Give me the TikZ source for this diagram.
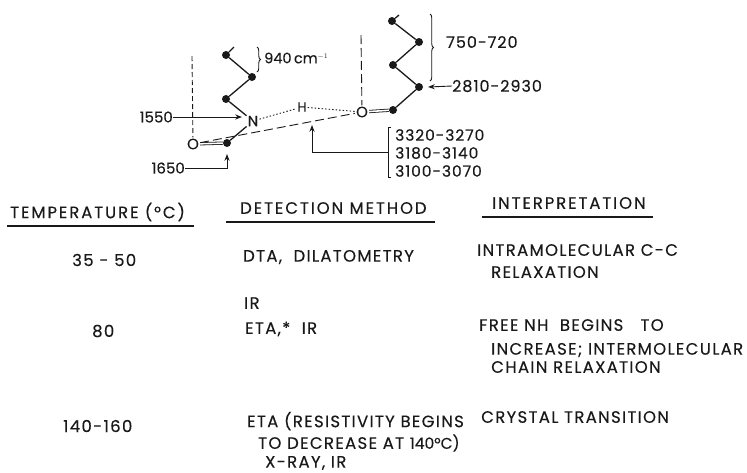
\documentclass[tikz,border=0pt]{standalone}
\usepackage{fontspec}
\setmainfont[FakeBold=0.25]{Poppins}
\newfontfamily\bodyfont[LetterSpace=8,FakeBold=0.25]{Poppins}
\newfontfamily\headfont[LetterSpace=11.5,FakeBold=0.25]{Poppins}
\newfontfamily\numfont[LetterSpace=6,FakeBold=0.25]{Poppins}
\newfontfamily\tightfont[FakeBold=0.25]{Poppins}
\usepackage{xcolor}
\usepackage{tikz}
\usetikzlibrary{arrows.meta, calc, decorations.pathreplacing}
\definecolor{ink}{RGB}{25,25,25}
\tikzset{
  lbl/.style    ={inner sep=0pt, anchor=west, text=ink, font=\bodyfont\fontsize{16.5}{18}\selectfont},
  hdr/.style    ={lbl, font=\headfont\fontsize{16.5}{18}\selectfont},
  num/.style    ={lbl, font=\numfont\fontsize{16}{18}\selectfont},
  tag/.style    ={lbl, font=\fontsize{15}{18}\selectfont},
  atom/.style   ={circle, fill=ink, inner sep=0pt, minimum size=8pt},
  het/.style    ={inner sep=1pt, text=ink, font=\fontsize{15}{15}\selectfont},
  bond/.style   ={draw=ink, line width=1.3pt},
  dbl/.style    ={draw=ink, line width=0.8pt, double, double distance=1.6pt},
  hb/.style     ={draw=ink, line width=0.9pt, dash pattern=on 1.5pt off 2pt},
  lng/.style    ={draw=ink, line width=0.9pt, dash pattern=on 9pt off 4pt},
  ar/.style     ={-{Stealth[length=2.4mm]}, draw=ink, line width=0.9pt},
  rule/.style   ={draw=ink, line width=1.1pt},
  brc/.style    ={draw=ink, line width=0.9pt, decorate, decoration={brace, amplitude=3.5pt}},
}
\begin{document}
\begin{tikzpicture}[x=1pt, y=-1pt]
\useasboundingbox (0,0) rectangle (747,472);
% left chain
\node[atom] (a1) at (226,55)  {};
\node[atom] (a2) at (252,77)  {};
\node[atom] (a3) at (226,99)  {};
\node[het]  (n)  at (253,121) {N};
\node[atom] (c1) at (227,143) {};
\node[het]  (o1) at (193,144) {O};
\coordinate (a0) at (234,47);
% right chain
\node[atom] (b1) at (392,21)  {};
\node[atom] (b2) at (419,42)  {};
\node[atom] (b3) at (393,65)  {};
\node[atom] (b4) at (419,87)  {};
\node[atom] (c2) at (393,110) {};
\node[het]  (o2) at (362,112) {O};
\node[het, font=\fontsize{13}{13}\selectfont] (h) at (302,107) {H};
\coordinate (b0) at (399,15);
\draw[bond] (a0)--(a1)--(a2)--(a3)--(n)--(c1);
\draw[bond] (b0)--(b1)--(b2)--(b3)--(b4)--(c2);
\draw[dbl] (o1)--(c1); \draw[dbl] (o2)--(c2);
\draw[hb] (n)--(h); \draw[hb] (h)--(o2);
\draw[lng] (o1)--(o2);
% chain axes
\coordinate (v1) at (192,56); \coordinate (v2) at (361,35);
\draw[lng, dash pattern=on 5pt off 3pt] (v1)--(o1);
\draw[lng] (v2)--(o2);
% labels on the molecule
\node[tag, font=\fontsize{14.5}{18}\selectfont] (t940) at (264,58) {940\,cm$^{\scriptscriptstyle -1}$};
\node[num] (t750) at (446,42) {750-720};
\node[num] (t2810) at (452,86) {2810-2930};
\node[tag, anchor=east] (t1550) at (173,117) {1550};
\node[tag, anchor=east] (t1650) at (185,168) {1650};
\node[num, font=\numfont\fontsize{15.5}{18}\selectfont] (t3320) at (395,135) {3320-3270};
\node[num, font=\numfont\fontsize{15.5}{18}\selectfont] (t3180) at (395,153) {3180-3140};
\node[num, font=\numfont\fontsize{15.5}{18}\selectfont] (t3100) at (395,171) {3100-3070};
\coordinate (p1550) at (242,117);
\coordinate (p2810) at (428,87);
\coordinate (p1650) at (227,154);
\coordinate (p33) at (312,125);
\coordinate (q33) at (388,152);
\draw[ar] (t1550.east)--(p1550);
\draw[ar] (t2810.west)--(p2810);
\draw[ar] (t1650.east) -| (p1650);
\draw[ar] (q33) -| (p33);
\draw[draw=ink, line width=0.9pt] (391,127)--(388,127)--(388,177)--(391,177);
\draw[brc] (257,47)--(257,72);
\draw[brc] (430,14)--(430,81);
% table head
\node[hdr] (hd1) at (10,212) {TEMPERATURE (°C)};
\node[hdr] (hd2) at (240,208) {DETECTION METHOD};
\node[hdr] (hd3) at (492,203) {INTERPRETATION};
\draw[rule] (7,226)--(194,226);
\draw[rule] (226,222)--(435,222);
\draw[rule] (482,217)--(653,217);
% table rows
\node[lbl] (r1a) at (72,260) {35 - 50};
\node[lbl] (r1b) at (243,257) {DTA,\ \ DILATOMETRY};
\node[lbl] (r1c) at (477,250) {INTRAMOLECULAR C-C};
\node[lbl] (r1d) at (491,272) {RELAXATION};
\node[lbl] (r2z) at (244,303) {IR};
\node[lbl] (r2a) at (92,331) {80};
\node[lbl] (r2b) at (245,329) {ETA,* \ IR};
\node[lbl] (r2c) at (479,325) {FREE NH\ \ BEGINS\ \ \ TO};
\node[lbl] (r2d) at (491,350) {INCREASE; INTERMOLECULAR};
\node[lbl] (r2e) at (491,367) {CHAIN RELAXATION};
\node[lbl] (r3a) at (63,426) {140-160};
\node[lbl] (r3b) at (247,421) {ETA (RESISTIVITY BEGINS};
\node[lbl] (r3c) at (258,443) {TO DECREASE AT {\tightfont\fontsize{15.5}{18}\selectfont 140°C)}};
\node[lbl] (r3d) at (265,463) {X-RAY, IR};
\node[lbl] (r3e) at (481,417) {CRYSTAL TRANSITION};
\end{tikzpicture}
\end{document}
